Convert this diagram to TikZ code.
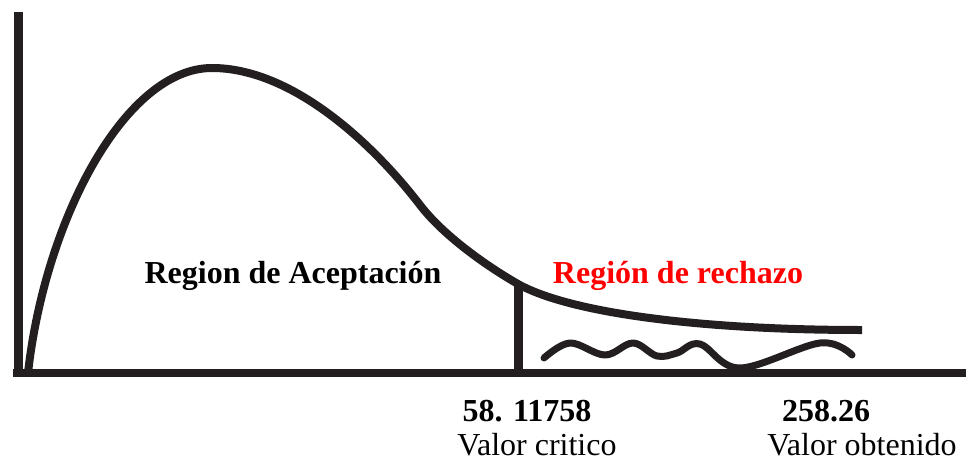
\documentclass[tikz,border=0pt]{standalone}
\usepackage{fontspec}
\setmainfont{Liberation Serif}
\begin{document}
\begin{tikzpicture}[x=1pt,y=-1pt,
  ink/.style={draw=inkc,line cap=butt,line join=round},
  lbl/.style={font=\fontsize{32}{36}\selectfont,inner sep=0pt,anchor=base},
  lblb/.style={lbl,font=\fontsize{32}{36}\selectfont\bfseries}]
\definecolor{inkc}{HTML}{231F20}
\useasboundingbox (0,0) rectangle (966,463);
% axes
\coordinate (ytop) at (18,12);
\coordinate (orig) at (18,373);
\coordinate (xend) at (966,373);
\draw[ink,line width=9] (ytop) -- (18,377);
\draw[ink,line width=8] (13,373) -- (xend);
% curve
\coordinate (c0) at (28,373);
\coordinate (peak) at (212,68);
\coordinate (infl) at (420,205);
\coordinate (ctop) at (518,284);
\coordinate (tail) at (862,330);
\draw[ink,line width=8] (c0) .. controls (45,220) and (125,68) .. (peak)
  .. controls (290,68) and (370,140) .. (infl)
  .. controls (445,237.5) and (490,268) .. (ctop)
  .. controls (570,313) and (700,330) .. (tail);
% critical line
\coordinate (cbot) at (518,373);
\draw[ink,line width=9] (ctop) -- (cbot);
% wavy line
\draw[ink,line width=7,line cap=round] plot[smooth,tension=0.6] coordinates {
 (544,358) (570,343) (605,355) (633,343) (657,356) (677,353)
 (700,344) (740,368) (820,343) (852,355)};
% labels
\node[lblb] (acc) at (293,283) {Region de Aceptación};
\node[lblb,text=red] (rech) at (678,283) {Región de rechazo};
\node[lblb] (vc) at (527,421) {58. 11758};
\node[lbl] (vcl) at (537,455) {Valor critico};
\node[lblb] (vo) at (826,421) {258.26};
\node[lbl] (vol) at (862,455) {Valor obtenido};
\end{tikzpicture}
\end{document}
